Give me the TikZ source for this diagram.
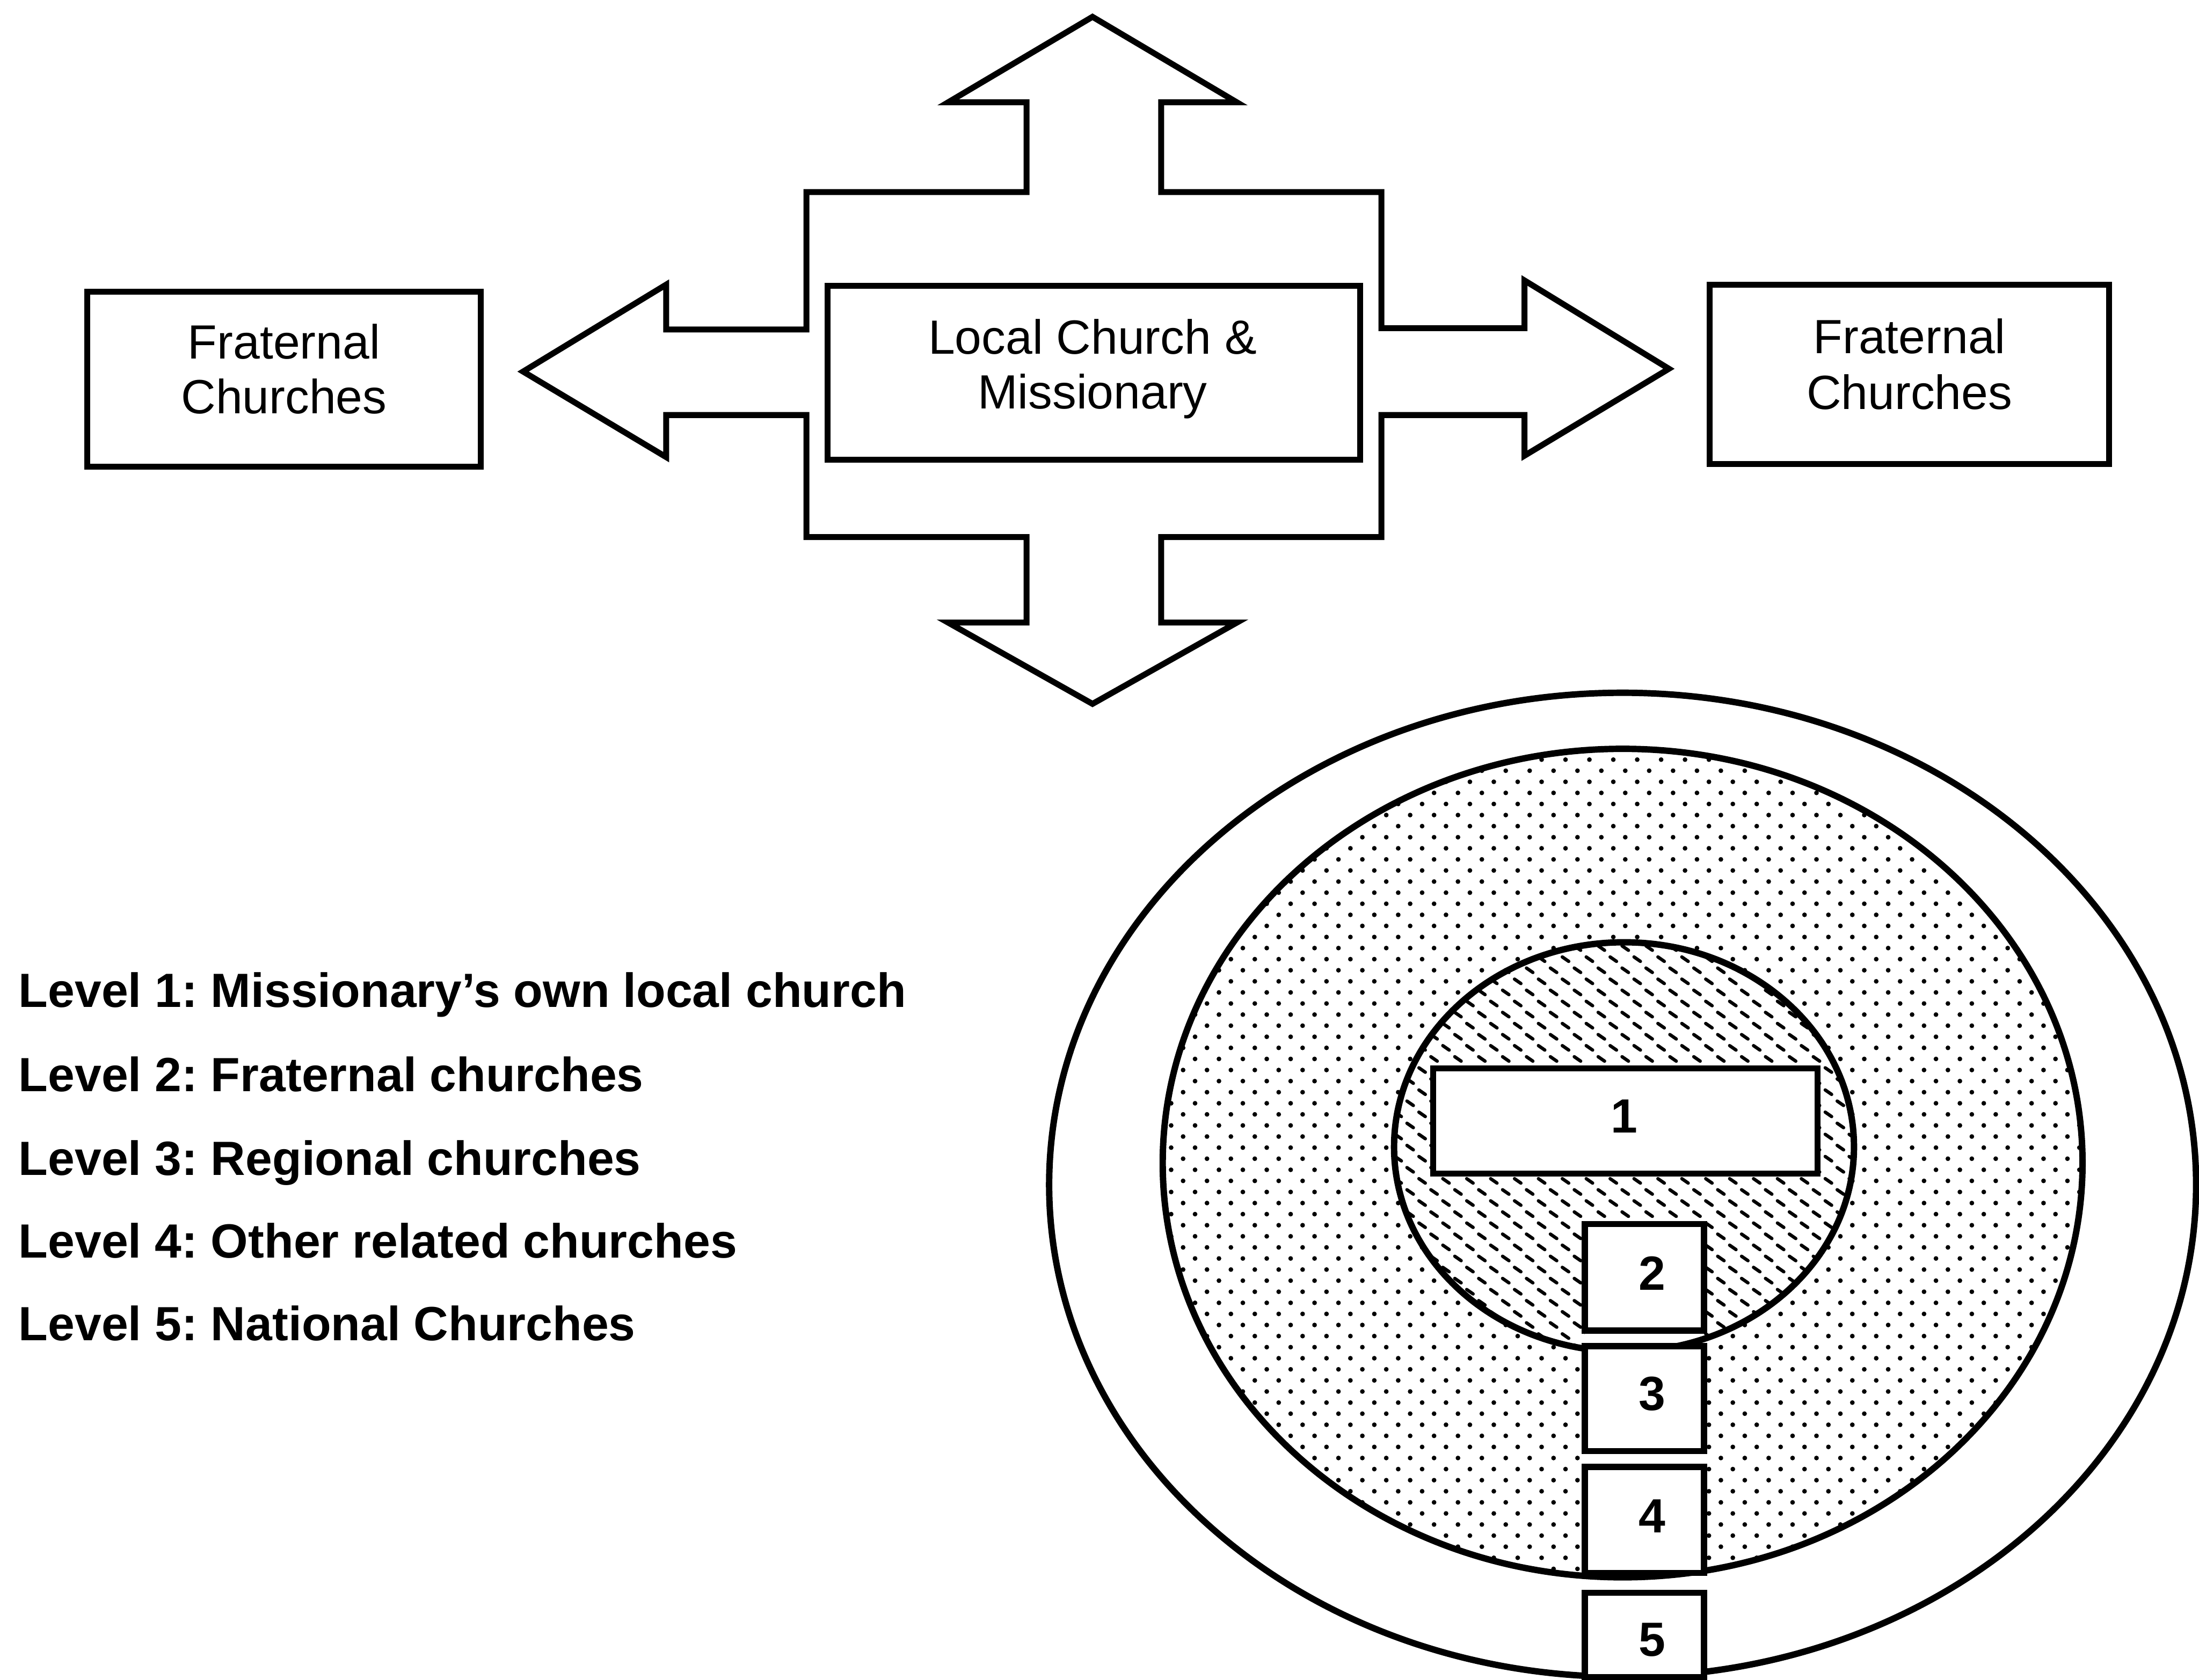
\documentclass[tikz,border=0pt]{standalone}
\usepackage{fontspec}
\setmainfont{Liberation Sans}
\usetikzlibrary{patterns}
\frenchspacing

% staggered dot screen for the middle ring
\pgfdeclarepatternformonly{stagdots}{\pgfqpoint{-1.2pt}{-1.2pt}}{\pgfqpoint{8.5pt}{7.8pt}}{\pgfqpoint{9.7pt}{9pt}}{
  \pgfpathcircle{\pgfqpoint{0pt}{0pt}}{0.95pt}
  \pgfpathcircle{\pgfqpoint{4.85pt}{4.5pt}}{0.95pt}
  \pgfusepath{fill}
}
% short slanted dashes for the innermost circle
\pgfdeclarepatternformonly{slashdash}{\pgfqpoint{-2.3pt}{-2.3pt}}{\pgfqpoint{7.4pt}{6.8pt}}{\pgfqpoint{9.7pt}{9pt}}{
  \pgfsetlinewidth{1.35pt}\pgfsetroundcap
  \pgfpathmoveto{\pgfqpoint{-1.3pt}{0.9pt}}\pgfpathlineto{\pgfqpoint{1.3pt}{-0.9pt}}
  \pgfpathmoveto{\pgfqpoint{3.55pt}{5.4pt}}\pgfpathlineto{\pgfqpoint{6.15pt}{3.6pt}}
  \pgfusepath{stroke}
}

\begin{document}
\begin{tikzpicture}[x=0.02cm, y=-0.02cm,
  outl/.style={line width=2.4pt, line join=miter},
  framebox/.style={draw, line width=2.4pt, fill=white, inner sep=0pt, outer sep=0pt},
  numbox/.style={draw, line width=2.5pt, fill=white, inner sep=0pt, outer sep=0pt, minimum width=1.7cm},
  ring/.style={line width=2.6pt},
  boxtext/.style={anchor=base, inner sep=0pt, font=\fontsize{19.5pt}{21.5pt}\selectfont},
  numtext/.style={anchor=base, inner sep=0pt, font=\fontsize{19.5pt}{21.5pt}\selectfont\bfseries},
  legendtext/.style={anchor=base west, inner sep=0pt, font=\fontsize{19.5pt}{21.5pt}\selectfont\bfseries}]

\useasboundingbox (0,0) rectangle (1568,1198);
\fill[white] (0,0) rectangle (1568,1198);

% four-way arrow behind the central box
\draw[outl] (779,12) -- (882,73) -- (828,73) -- (828,137) -- (985,137) -- (985,234)
  -- (1087,234) -- (1087,200) -- (1190,263) -- (1087,325) -- (1087,296) -- (985,296)
  -- (985,383) -- (828,383) -- (828,444) -- (882,444) -- (779,502) -- (676,444)
  -- (732,444) -- (732,383) -- (575,383) -- (575,296) -- (475,296) -- (475,326)
  -- (373,265) -- (475,203) -- (475,235) -- (575,235) -- (575,137) -- (732,137)
  -- (732,73) -- (676,73) -- cycle;

% boxes of the top row
\node[framebox, minimum width=5.62cm, minimum height=2.5cm] (fratL) at (202.5,270.5) {};
\node[framebox, minimum width=7.6cm, minimum height=2.48cm] (local) at (780,266) {};
\node[framebox, minimum width=5.7cm, minimum height=2.56cm] (fratR) at (1361.5,267) {};

\node[boxtext] (fratLa) at (202.5,256) {Fraternal};
\node[boxtext] (fratLb) at (202.5,295) {Churches};
\node[boxtext] (locala) at (779,252.5) {Local Church \&};
\node[boxtext] (localb) at (779,291.5) {Missionary};
\node[boxtext] (fratRa) at (1361.5,252) {Fraternal};
\node[boxtext] (fratRb) at (1361.5,292) {Churches};

% legend
\node[legendtext] (lev1) at (13,718.5) {Level 1: Missionary’s own local church};
\node[legendtext] (lev2) at (13,778.5) {Level 2: Fraternal churches};
\node[legendtext] (lev3) at (13,838) {Level 3: Regional churches};
\node[legendtext] (lev4) at (13,897) {Level 4: Other related churches};
\node[legendtext] (lev5) at (13,956) {Level 5: National Churches};

% nested circles
\path[pattern=stagdots] (1157,829.5) ellipse [x radius=6.56cm, y radius=5.91cm];
\path[fill=white] (1158,818) ellipse [x radius=3.28cm, y radius=2.92cm];
\path[pattern=slashdash] (1158,818) ellipse [x radius=3.28cm, y radius=2.92cm];
\fill[white] (1130,873) rectangle (1215,1196);
\draw[ring] (1157,845) ellipse [x radius=8.18cm, y radius=7.02cm];
\draw[ring] (1157,829.5) ellipse [x radius=6.56cm, y radius=5.91cm];
\draw[ring] (1158,818) ellipse [x radius=3.28cm, y radius=2.92cm];

% numbered level boxes
\node[framebox, minimum width=5.48cm, minimum height=1.5cm] (b1) at (1159,799.5) {};
\node[numbox, minimum height=1.52cm] (b2) at (1172.5,911) {};
\node[numbox, minimum height=1.5cm] (b3) at (1172.5,997.5) {};
\node[numbox, minimum height=1.51cm] (b4) at (1172.5,1084) {};
\node[numbox, minimum height=1.2cm] (b5) at (1172.5,1166) {};

\node[numtext] (n1) at (1158,808) {1};
\node[numtext] (n2) at (1178,920) {2};
\node[numtext] (n3) at (1178,1006) {3};
\node[numtext] (n4) at (1178,1093) {4};
\node[numtext] (n5) at (1178,1181) {5};
\end{tikzpicture}
\end{document}
